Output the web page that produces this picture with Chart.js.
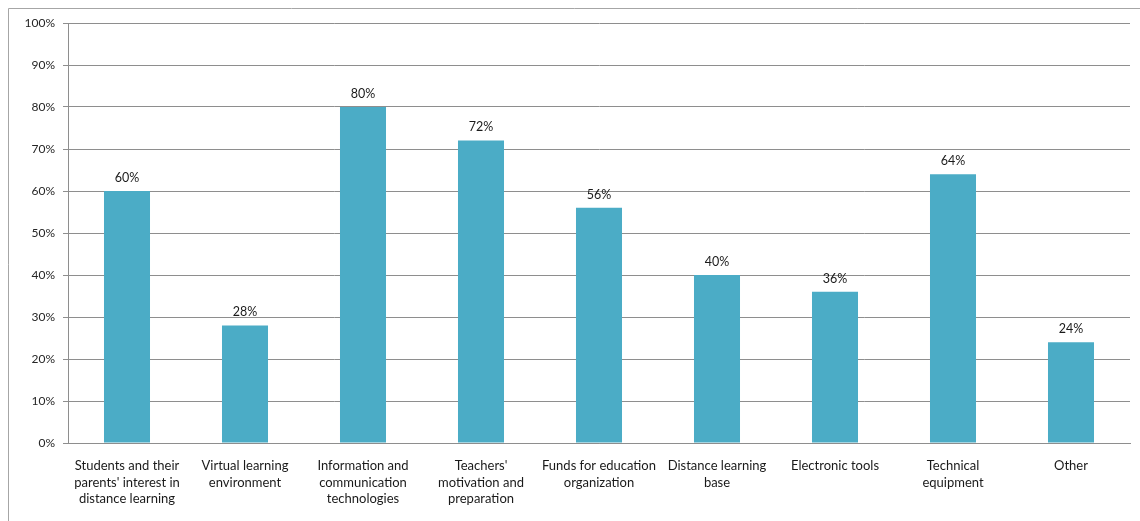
<!DOCTYPE html>
<html>
<head>
<meta charset="utf-8">
<script src="https://cdn.jsdelivr.net/npm/chart.js@4"></script>
<style>
  html, body { margin: 0; padding: 0; background: #fff; }
  #wrap { width: 1140px; height: 521px; position: relative; }
</style>
</head>
<body>
<div id="wrap"><canvas id="chart"></canvas></div>
<script>
// Categories (multi-line, as wrapped in the original)
const categories = [
    ["Students and their", "parents' interest in", "distance learning"],
    ["Virtual learning", "environment"],
    ["Information and", "communication", "technologies"],
    ["Teachers'", "motivation and", "preparation"],
    ["Funds for education", "organization"],
    ["Distance learning", "base"],
    ["Electronic tools"],
    ["Technical", "equipment"],
    ["Other"]
];

// Share of respondents, %
const shares = [60, 28, 80, 72, 56, 40, 36, 64, 24];

// Y axis ticks
const yTicks = [0, 10, 20, 30, 40, 50, 60, 70, 80, 90, 100];

const FONT = "Lato, 'Open Sans', sans-serif";

// Outer frame of the chart object
const framePlugin = {
    id: "frame",
    beforeDraw(chart) {
        const ctx = chart.ctx;
        ctx.save();
        ctx.fillStyle = "#fff";
        ctx.fillRect(0, 0, chart.width, chart.height);
        ctx.strokeStyle = "#a6a6a6";
        ctx.lineWidth = 1;
        ctx.beginPath();
        ctx.moveTo(8.5, chart.height);
        ctx.lineTo(8.5, 8.5);
        ctx.lineTo(chart.width, 8.5);
        ctx.stroke();
        ctx.restore();
    }
};

// Value labels above the bars
const valueLabels = {
    id: "valueLabels",
    afterDatasetsDraw(chart) {
        const ctx = chart.ctx;
        ctx.save();
        ctx.font = "12.5px " + FONT;
        ctx.fillStyle = "#1a1a1a";
        ctx.textAlign = "center";
        ctx.textBaseline = "bottom";
        chart.getDatasetMeta(0).data.forEach((bar, i) => {
            ctx.fillText(shares[i] + "%", bar.x, bar.y - 7);
        });
        ctx.restore();
    }
};

new Chart(document.getElementById("chart"), {
    type: "bar",
    data: {
        labels: categories,
        datasets: [{
            data: shares,
            backgroundColor: "#4bacc6",
            categoryPercentage: 1,
            barPercentage: 0.39
        }]
    },
    options: {
        responsive: true,
        maintainAspectRatio: false,
        animation: false,
        layout: { padding: { top: 23, right: 10, left: 1, bottom: 0 } },
        plugins: {
            legend: { display: false },
            tooltip: { enabled: false }
        },
        scales: {
            x: {
                grid: { display: false, drawTicks: false },
                border: { display: true, color: "#8e8e8e", width: 1 },
                ticks: {
                    color: "#1a1a1a",
                    font: { family: FONT, size: 13, lineHeight: 1.3 },
                    padding: 14,
                    maxRotation: 0,
                    autoSkip: false
                },
                afterFit(scale) { scale.height = 78; }
            },
            y: {
                min: 0,
                max: 100,
                afterBuildTicks(scale) {
                    scale.ticks = yTicks.map(v => ({ value: v }));
                },
                grid: { color: "#8e8e8e", lineWidth: 1, tickLength: 5 },
                border: { display: true, color: "#8e8e8e", width: 1 },
                ticks: {
                    color: "#262626",
                    font: { family: FONT, size: 12 },
                    padding: 8,
                    callback: v => v + "%"
                },
                afterFit(scale) { scale.width = 67; }
            }
        }
    },
    plugins: [framePlugin, valueLabels]
});
</script>
</body>
</html>
